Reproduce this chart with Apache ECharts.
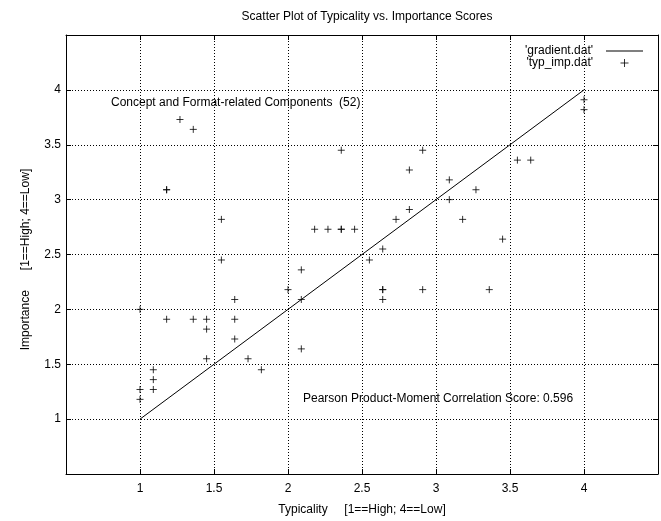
<!DOCTYPE html>
<html>
<head>
<meta charset="utf-8">
<script src="https://cdn.jsdelivr.net/npm/echarts@6/dist/echarts.min.js"></script>
<style>
  html, body { margin: 0; padding: 0; background: #fff; }
  #chart { width: 661px; height: 521px; }
</style>
</head>
<body>
<div id="chart"></div>
<script>
    // typicality / importance scores, one pair per component (52)
    var typicality = [1.27, 1.36, 1.18, 1.18, 1.55, 1.55, 2.09, 2.0, 2.09, 1.0, 1.18, 1.36, 1.45, 1.64,
        1.64, 1.45, 1.64, 2.09, 1.45, 1.73, 1.82, 1.09, 1.09, 1.09, 1.0, 1.0,
        2.36, 2.91, 3.55, 3.64, 2.82, 3.09, 3.27, 3.09, 2.82, 2.73, 3.18, 2.18, 2.27, 2.36, 2.36, 2.45,
        3.45, 2.64, 2.55, 2.64, 2.64, 2.91, 3.36, 2.64, 4.0, 4.0];
    var importance = [3.73, 3.64, 3.09, 3.09, 2.82, 2.45, 2.36, 2.18, 2.09, 2.0, 1.91, 1.91, 1.91, 2.09,
        1.91, 1.82, 1.73, 1.64, 1.55, 1.55, 1.45, 1.45, 1.36, 1.27, 1.27, 1.18,
        3.45, 3.45, 3.36, 3.36, 3.27, 3.18, 3.09, 3.0, 2.91, 2.82, 2.82, 2.73, 2.73, 2.73, 2.73, 2.73,
        2.64, 2.55, 2.45, 2.18, 2.18, 2.18, 2.18, 2.09, 3.91, 3.82];
    // gradient.dat
    var gradientX = [1, 4];
    var gradientY = [1, 4];

    var font = "'Liberation Sans', Arial, sans-serif";
    var plusPath = 'path://M0,4H8M4,0V8';
    var chart = echarts.init(document.getElementById('chart'));

    var points = typicality.map(function (t, i) { return [t, importance[i]]; });
    var gradient = gradientX.map(function (g, i) { return [g, gradientY[i]]; });

    function tickLabel(v) {
        return (v <= 0.5 || v >= 4.5) ? '' : String(v);
    }

    var baseAxis = {
        type: 'value',
        min: 0.5,
        max: 4.5,
        interval: 0.5,
        axisLine: { show: true, onZero: false, lineStyle: { color: '#000', width: 1 } },
        axisTick: { show: true, inside: true, length: 5, lineStyle: { color: '#000' } }
    };

    let option = {
        animation: false,
        title: {
            text: 'Scatter Plot of Typicality vs. Importance Scores',
            left: 362,
            textAlign: 'center',
            top: 6,
            textStyle: { fontFamily: font, fontSize: 12, fontWeight: 'normal', color: '#000' }
        },
        legend: {
            orient: 'vertical',
            align: 'right',
            right: 13,
            top: 40,
            itemGap: 0,
            itemWidth: 37,
            itemHeight: 8,
            textStyle: { fontFamily: font, fontSize: 12, color: '#000', padding: [0, 8, 0, 0] },
            data: [
                { name: "'gradient.dat'", icon: 'path://M0,0H36V1H0Z', itemStyle: { color: '#000', borderWidth: 0 } },
                { name: "'typ_imp.dat'", icon: plusPath, itemStyle: { color: '#000', borderColor: '#000', borderWidth: 1 } }
            ]
        },
        grid: {
            left: 66,
            right: 3,
            top: 35,
            bottom: 46
        },
        xAxis: [
            Object.assign({}, baseAxis, {
                position: 'bottom',
                name: 'Typicality     [1==High; 4==Low]',
                nameLocation: 'middle',
                nameGap: 30,
                nameTextStyle: { fontFamily: font, fontSize: 12, color: '#000' },
                axisLabel: { margin: 9, fontFamily: font, fontSize: 12, color: '#000', formatter: tickLabel },
                splitLine: { show: true, lineStyle: { color: '#000', width: 1, type: [1, 2] } }
            }),
            Object.assign({}, baseAxis, {
                position: 'top',
                axisLabel: { show: false },
                splitLine: { show: false }
            })
        ],
        yAxis: [
            Object.assign({}, baseAxis, {
                position: 'left',
                name: 'Importance      [1==High; 4==Low]',
                nameLocation: 'middle',
                nameGap: 34,
                nameTextStyle: { fontFamily: font, fontSize: 12, color: '#000', padding: [0, 10, 0, 0] },
                axisLabel: { margin: 5, fontFamily: font, fontSize: 12, color: '#000', formatter: tickLabel },
                splitLine: { show: true, lineStyle: { color: '#000', width: 1, type: [1, 2] } }
            }),
            Object.assign({}, baseAxis, {
                position: 'right',
                axisLabel: { show: false },
                splitLine: { show: false }
            })
        ],
        graphic: [
            {
                type: 'text',
                left: 111,
                top: 97,
                style: { text: 'Concept and Format-related Components  (52)', font: '12px ' + font, fill: '#000' }
            },
            {
                type: 'text',
                left: 303,
                top: 393,
                style: { text: 'Pearson Product-Moment Correlation Score: 0.596', font: '12px ' + font, fill: '#000' }
            }
        ],
        series: [
            {
                name: "'gradient.dat'",
                type: 'line',
                symbol: 'none',
                silent: true,
                lineStyle: { color: '#000', width: 1 },
                itemStyle: { color: '#000' },
                data: gradient
            },
            {
                name: "'typ_imp.dat'",
                type: 'scatter',
                symbol: plusPath,
                symbolSize: 7,
                silent: true,
                itemStyle: { color: '#000', borderColor: '#000', borderWidth: 1 },
                data: points
            }
        ]
    };
    chart.setOption(option);
</script>
</body>
</html>
